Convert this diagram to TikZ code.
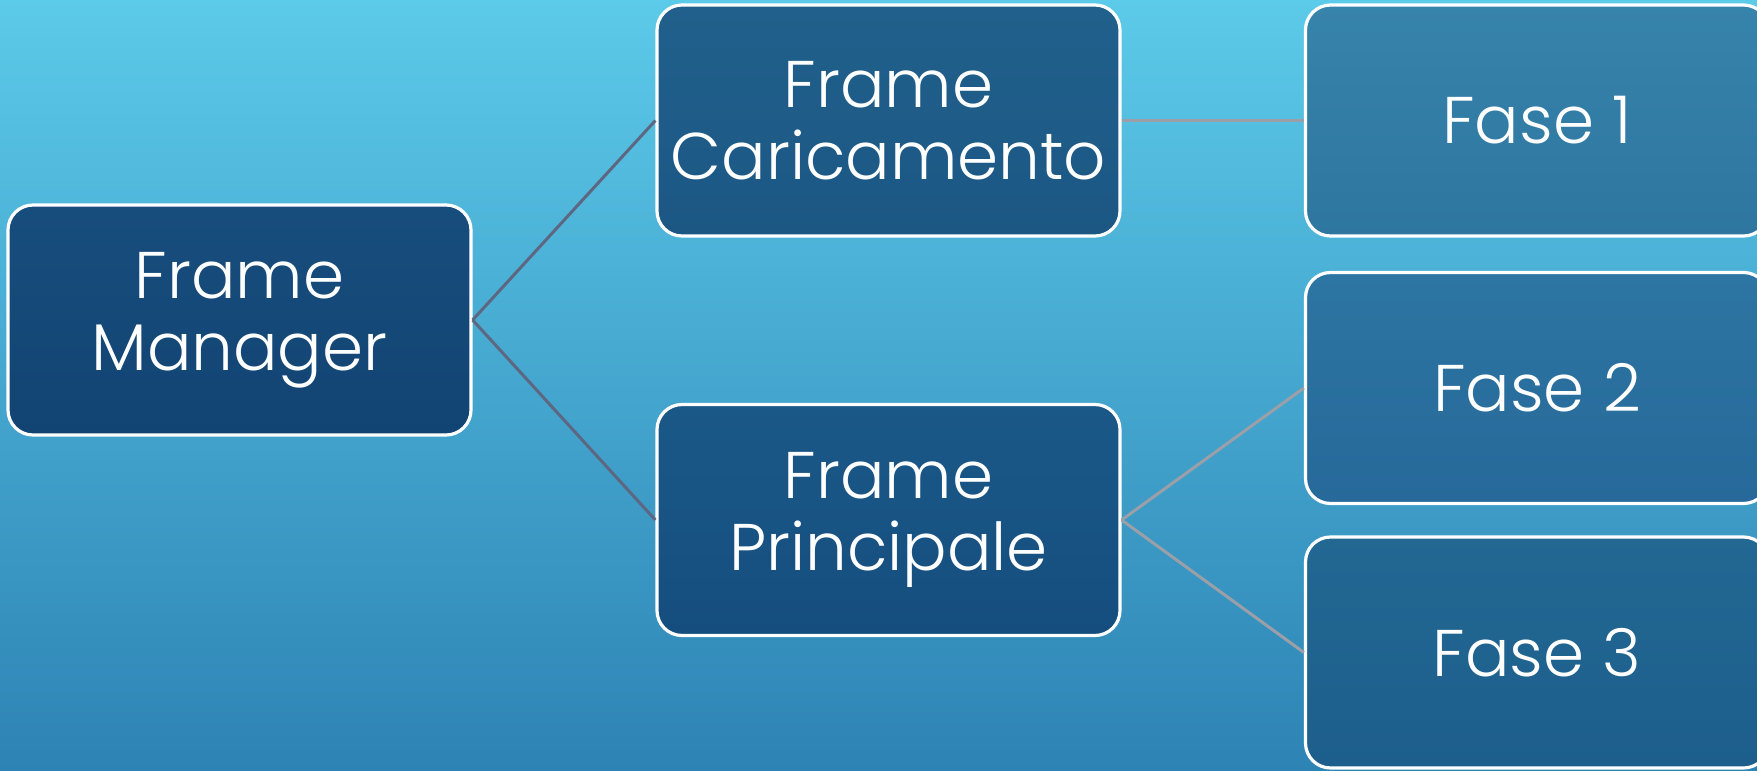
\documentclass[tikz,border=0pt]{standalone}
\usepackage{fontspec}
\setmainfont{Poppins}[UprightFont=* Light]
\definecolor{bgtop}{HTML}{5CCAE9}
\definecolor{bgbot}{HTML}{2D83B4}
\definecolor{fmT}{HTML}{174D7D}
\definecolor{fmB}{HTML}{124473}
\definecolor{fcT}{HTML}{21608C}
\definecolor{fcB}{HTML}{1C5784}
\definecolor{fpT}{HTML}{1A5888}
\definecolor{fpB}{HTML}{154E7E}
\definecolor{f1T}{HTML}{3683AB}
\definecolor{f1B}{HTML}{2E76A0}
\definecolor{f2T}{HTML}{2D75A2}
\definecolor{f2B}{HTML}{26699A}
\definecolor{f3T}{HTML}{226893}
\definecolor{f3B}{HTML}{1D5E8C}
\definecolor{linedark}{HTML}{5E6782}
\definecolor{linelight}{HTML}{9B9FA8}
\tikzset{
  box/.style={draw=white, line width=1.6pt, rounded corners=12.5pt,
    minimum width=231.5pt, minimum height=115.5pt, inner sep=0pt,
    align=center, text=white, font=\fontsize{33}{36}\selectfont},
  conndark/.style={draw=linedark, line width=1.5pt},
  connlight/.style={draw=linelight, line width=1.5pt}
}
\begin{document}
\begin{tikzpicture}[x=0.5pt,y=-0.5pt]
\useasboundingbox (0,0) rectangle (1757,771);
\clip (0,0) rectangle (1757,771);
\shade[top color=bgtop, bottom color=bgbot] (0,0) rectangle (1757,771);
\node[box, top color=fmT, bottom color=fmB, minimum height=115pt] (fm) at (239.5,320) {Frame\\Manager};
\node[box, top color=fcT, bottom color=fcB] (fc) at (888.5,120.5) {Frame\\Caricamento};
\node[box, top color=fpT, bottom color=fpB] (fp) at (888.5,520) {Frame\\Principale};
\node[box, top color=f1T, bottom color=f1B] (f1) at (1537,120.5) {Fase 1};
\node[box, top color=f2T, bottom color=f2B] (f2) at (1537,388) {Fase 2};
\node[box, top color=f3T, bottom color=f3B] (f3) at (1537,652.5) {Fase 3};
\draw[conndark] (fm.east) -- (fc.west);
\draw[conndark] (fm.east) -- (fp.west);
\draw[connlight] (fc.east) -- (f1.west);
\draw[connlight] (fp.east) -- (f2.west);
\draw[connlight] (fp.east) -- (f3.west);
\end{tikzpicture}
\end{document}
